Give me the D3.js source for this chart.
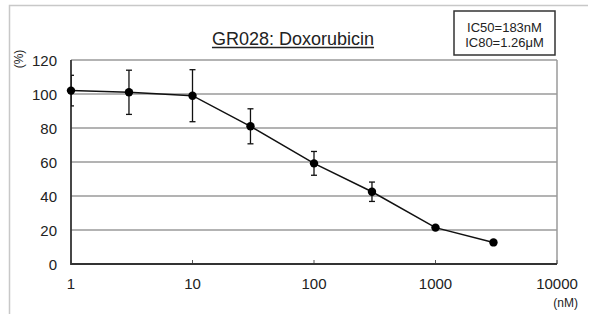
<!DOCTYPE html>
<html lang="en">
  <head>
    <meta charset="UTF-8" />
    <title>GR028: Doxorubicin</title>
    <script src="https://d3js.org/d3.v7.min.js"></script>
    <style>
      body {
        margin: 0;
        background: #fff;
        font-family: "Liberation Sans", Arial, sans-serif;
      }
      .grid line {
        stroke: #9a9a9a;
        stroke-width: 1.5px;
      }
      .tick-label {
        fill: #222;
        font-size: 15px;
      }
    </style>
  </head>
  <body>
    <script>
      // concentration (nM), mean viability (%), error (+/-)
      var conc = [1, 3, 10, 30, 100, 300, 1000, 3000];
      var viability = [102, 101, 99, 81, 59.2, 42.5, 21.4, 12.7];
      var errors = [9, 13, 15.3, 10.3, 7, 5.7, 0, 0];
      var yTicks = [0, 20, 40, 60, 80, 100, 120];
      var xTicks = [1, 10, 100, 1000, 10000];

      var width = 597,
        height = 314;
      var plot = { left: 71, right: 557, top: 60, bottom: 264 };

      var svg = d3
        .select("body")
        .append("svg")
        .attr("width", width)
        .attr("height", height);

      // outer frame (top + left only)
      svg
        .append("path")
        .attr("d", "M9.5," + height + "V5.5H588")
        .attr("fill", "none")
        .attr("stroke", "#c8c8c8")
        .attr("stroke-width", 1.5);

      var x = d3.scaleLog().domain([1, 10000]).range([plot.left, plot.right]);
      var y = d3.scaleLinear().domain([0, 120]).range([plot.bottom, plot.top]);

      // horizontal gridlines
      svg
        .append("g")
        .attr("class", "grid")
        .selectAll("line")
        .data(yTicks.filter(function (d) { return d > 0; }))
        .enter()
        .append("line")
        .attr("x1", plot.left)
        .attr("x2", plot.right)
        .attr("y1", function (d) { return y(d); })
        .attr("y2", function (d) { return y(d); });

      // right border
      svg
        .append("line")
        .attr("x1", plot.right)
        .attr("x2", plot.right)
        .attr("y1", plot.top)
        .attr("y2", plot.bottom)
        .attr("stroke", "#9a9a9a")
        .attr("stroke-width", 1.5);

      // x ticks inside
      svg
        .selectAll(".xtick")
        .data(xTicks)
        .enter()
        .append("line")
        .attr("x1", function (d) { return x(d); })
        .attr("x2", function (d) { return x(d); })
        .attr("y1", plot.bottom)
        .attr("y2", plot.bottom - 4)
        .attr("stroke", "#555")
        .attr("stroke-width", 1);

      // axes lines
      svg
        .append("path")
        .attr("d", "M" + plot.left + "," + plot.top + "V" + plot.bottom + "H" + plot.right)
        .attr("fill", "none")
        .attr("stroke", "#333")
        .attr("stroke-width", 1.8);

      // y labels
      svg
        .selectAll(".ylab")
        .data(yTicks)
        .enter()
        .append("text")
        .attr("class", "tick-label")
        .attr("x", 57)
        .attr("y", function (d) { return y(d) + 5.5; })
        .attr("text-anchor", "end")
        .text(function (d) { return d; });

      // x labels
      svg
        .selectAll(".xlab")
        .data(xTicks)
        .enter()
        .append("text")
        .attr("class", "tick-label")
        .attr("x", function (d) { return x(d); })
        .attr("y", 289)
        .attr("text-anchor", "middle")
        .text(function (d) { return d; });

      // unit labels
      svg
        .append("text")
        .attr("transform", "translate(23,59) rotate(-90)")
        .attr("text-anchor", "middle")
        .attr("font-size", 12)
        .attr("fill", "#222")
        .text("(%)");
      svg
        .append("text")
        .attr("x", 578)
        .attr("y", 307)
        .attr("text-anchor", "end")
        .attr("font-size", 12)
        .attr("fill", "#222")
        .text("(nM)");

      // error bars, clipped to the plot area
      svg
        .append("clipPath")
        .attr("id", "clip")
        .append("rect")
        .attr("x", plot.left)
        .attr("y", 0)
        .attr("width", plot.right - plot.left)
        .attr("height", height);

      var data = conc.map(function (c, i) {
        return { c: c, v: viability[i], e: errors[i] };
      });

      var eb = svg
        .append("g")
        .attr("clip-path", "url(#clip)")
        .attr("stroke", "#111")
        .attr("stroke-width", 1.3)
        .selectAll("g")
        .data(data.filter(function (d) { return d.e > 0; }))
        .enter()
        .append("g");
      eb.append("line")
        .attr("x1", function (d) { return x(d.c); })
        .attr("x2", function (d) { return x(d.c); })
        .attr("y1", function (d) { return y(d.v + d.e); })
        .attr("y2", function (d) { return y(d.v - d.e); });
      [1, -1].forEach(function (s) {
        eb.append("line")
          .attr("x1", function (d) { return x(d.c) - 3; })
          .attr("x2", function (d) { return x(d.c) + 3; })
          .attr("y1", function (d) { return y(d.v + s * d.e); })
          .attr("y2", function (d) { return y(d.v + s * d.e); });
      });

      // line + markers
      svg
        .append("path")
        .datum(data)
        .attr("fill", "none")
        .attr("stroke", "#111")
        .attr("stroke-width", 1.5)
        .attr("d", d3.line().x(function (d) { return x(d.c); }).y(function (d) { return y(d.v); }));

      svg
        .selectAll(".dot")
        .data(data)
        .enter()
        .append("circle")
        .attr("cx", function (d) { return x(d.c); })
        .attr("cy", function (d) { return y(d.v); })
        .attr("r", 4.2)
        .attr("fill", "#000");

      // title
      var title = svg
        .append("text")
        .attr("x", 293)
        .attr("y", 45)
        .attr("text-anchor", "middle")
        .attr("font-size", 18)
        .attr("fill", "#222")
        .text("GR028: Doxorubicin");
      var bb = title.node().getBBox();
      svg
        .append("line")
        .attr("x1", bb.x)
        .attr("x2", bb.x + bb.width)
        .attr("y1", 47.5)
        .attr("y2", 47.5)
        .attr("stroke", "#222")
        .attr("stroke-width", 1.3);

      // IC box
      svg
        .append("rect")
        .attr("x", 454)
        .attr("y", 11)
        .attr("width", 101)
        .attr("height", 44)
        .attr("fill", "#fff")
        .attr("stroke", "#333")
        .attr("stroke-width", 1.5);
      svg
        .selectAll(".ic")
        .data(["IC50=183nM", "IC80=1.26\u03bcM"])
        .enter()
        .append("text")
        .attr("x", 504.5)
        .attr("y", function (d, i) { return 32 + i * 15; })
        .attr("text-anchor", "middle")
        .attr("font-size", 13)
        .attr("fill", "#222")
        .text(function (d) { return d; });
    </script>
  </body>
</html>
